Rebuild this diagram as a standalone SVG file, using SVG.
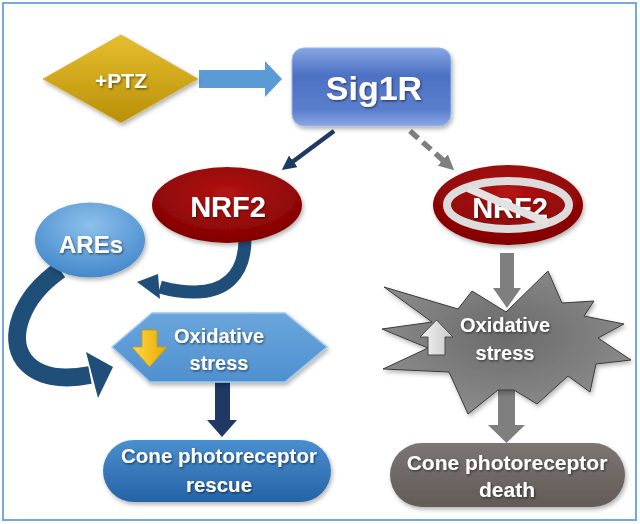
<svg xmlns="http://www.w3.org/2000/svg" width="640" height="524" viewBox="0 0 640 524">
<defs>
<style>
.t{font-family:"Liberation Sans",Arial,sans-serif;font-weight:bold;fill:#fff;text-anchor:middle;filter:url(#ts)}
</style>
<filter id="ts" x="-10%" y="-20%" width="130%" height="150%"><feDropShadow dx="1" dy="1.2" stdDeviation="0.8" flood-color="#000" flood-opacity="0.55"/></filter>
<filter id="sh" x="-10%" y="-10%" width="130%" height="140%"><feDropShadow dx="1.5" dy="2.5" stdDeviation="2" flood-color="#000" flood-opacity="0.3"/></filter>
<linearGradient id="gGold" x1="0" y1="0" x2="0" y2="1"><stop offset="0" stop-color="#e6bf2e"/><stop offset="1" stop-color="#b98f08"/></linearGradient>
<linearGradient id="gSig" x1="0" y1="0" x2="0" y2="1"><stop offset="0" stop-color="#86a6e2"/><stop offset="0.35" stop-color="#4d71c3"/><stop offset="0.8" stop-color="#5a7fcd"/><stop offset="1" stop-color="#8aa8e4"/></linearGradient>
<radialGradient id="gRed" cx="0.5" cy="0.35" r="0.7"><stop offset="0" stop-color="#b41414"/><stop offset="1" stop-color="#7e0000"/></radialGradient>
<radialGradient id="gAre" cx="0.5" cy="0.3" r="0.75"><stop offset="0" stop-color="#8cc0ec"/><stop offset="1" stop-color="#3f85c8"/></radialGradient>
<linearGradient id="gHex" x1="0" y1="0" x2="0" y2="1"><stop offset="0" stop-color="#6aa6dc"/><stop offset="1" stop-color="#4f90cf"/></linearGradient>
<linearGradient id="gYel" x1="0" y1="0" x2="1" y2="0"><stop offset="0" stop-color="#ffd94a"/><stop offset="1" stop-color="#e8a800"/></linearGradient>
<radialGradient id="gStar" cx="0.5" cy="0.45" r="0.6"><stop offset="0" stop-color="#6a6a6a"/><stop offset="1" stop-color="#8e8e8e"/></radialGradient>
<linearGradient id="gUp" x1="0" y1="0" x2="1" y2="0"><stop offset="0" stop-color="#f4f4f4"/><stop offset="1" stop-color="#c8c8c8"/></linearGradient>
<linearGradient id="gRes" x1="0" y1="0" x2="0" y2="1"><stop offset="0" stop-color="#4a8fd0"/><stop offset="1" stop-color="#2563a6"/></linearGradient>
<linearGradient id="gDea" x1="0" y1="0" x2="0" y2="1"><stop offset="0" stop-color="#7c7572"/><stop offset="1" stop-color="#625b58"/></linearGradient>
<marker id="mNavy" viewBox="0 0 10 10" refX="2" refY="5" markerWidth="3.2" markerHeight="3.2" orient="auto" markerUnits="strokeWidth"><path d="M0,0 L10,5 L0,10 Z" fill="#1f3864"/></marker>
<marker id="mGray" viewBox="0 0 10 10" refX="2" refY="5" markerWidth="2.8" markerHeight="2.8" orient="auto" markerUnits="strokeWidth"><path d="M0,0 L10,5 L0,10 Z" fill="#7f7f7f"/></marker>
</defs>
<rect x="0" y="0" width="640" height="524" fill="#fff"/>
<rect x="3" y="3" width="633" height="517" fill="#fff" stroke="#74a9e0" stroke-width="2"/>

<g id="connectors">
<polygon points="199,70 265,70 265,61 282,79 265,97 265,88 199,88" fill="#5b9bd5"/>
<line x1="334" y1="131" x2="291" y2="163" stroke="#1f3864" stroke-width="4.5" marker-end="url(#mNavy)"/>
<line x1="410" y1="131" x2="445" y2="162" stroke="#7f7f7f" stroke-width="5.5" stroke-dasharray="11,6" marker-end="url(#mGray)"/>
<path d="M245,236 C246,278 222,292 195,292 C182,292 170,290 160,287" fill="none" stroke="#1f4e79" stroke-width="13"/>
<polygon points="137,282 158,274 160,299" fill="#1f4e79"/>
<path d="M60,270 C20,298 8,338 24,360 C38,378 64,380 90,375" fill="none" stroke="#1f4e79" stroke-width="18"/>
<polygon points="113,367 86,352 98,398" fill="#1f4e79"/>
<polygon points="215,380 230,380 230,420 237,420 222,437 207,420 215,420" fill="#1f3864"/>
<polygon points="500,253 514,253 514,288 521,288 507,308 493,288 500,288" fill="#7f7f7f"/>
<polygon points="498,385 515,385 515,425 525,425 506.5,443 488,425 498,425" fill="#7f7f7f"/>
</g>

<g id="ptz" filter="url(#sh)">
<polygon points="43,79 121,35 198,79 121,123" fill="url(#gGold)" stroke="#d8b440" stroke-width="1"/>
<text class="t" x="121" y="88" font-size="21">+PTZ</text>
</g>

<g id="sig1r" filter="url(#sh)">
<rect x="292" y="48" width="159" height="78" rx="12" fill="url(#gSig)" stroke="#9db6e6" stroke-width="1"/>
<text class="t" x="374" y="100" font-size="34">Sig1R</text>
</g>

<g id="nrf2" filter="url(#sh)">
<ellipse cx="227" cy="205" rx="75" ry="38" fill="url(#gRed)"/>
<text class="t" x="228" y="217" font-size="29">NRF2</text>
</g>

<g id="ares" filter="url(#sh)">
<ellipse cx="90" cy="240" rx="55" ry="37.5" fill="url(#gAre)"/>
<text class="t" x="91" y="253" font-size="24">AREs</text>
</g>

<g id="nrf2-blocked" filter="url(#sh)">
<ellipse cx="508" cy="205" rx="75" ry="40" fill="url(#gRed)"/>
<ellipse cx="508" cy="205" rx="61" ry="24" fill="none" stroke="#dcdcdc" stroke-width="8"/>
<text class="t" x="510" y="218" font-size="29">NRF2</text>
<line x1="468" y1="188" x2="548" y2="223" stroke="#e2e2e2" stroke-width="8"/>
</g>

<g id="oxstress-low" filter="url(#sh)">
<polygon points="112,347 152,313 285,313 327,347 285,382 150,382" fill="url(#gHex)" stroke="#9cc7ee" stroke-width="1.5"/>
<polygon points="142,330 157,330 157,347 167,347 149.5,367 132,347 142,347" fill="url(#gYel)" stroke="#d09a00" stroke-width="0.8"/>
<text class="t" x="219" y="343" font-size="20">Oxidative</text>
<text class="t" x="219" y="370" font-size="20">stress</text>
</g>

<g id="oxstress-high" filter="url(#sh)">
<polygon points="548,271 562,303 594,301 584,316 624,324 598,338 631,360 596,364 590,392 568,376 537,404 514,390 498,390 468,414 449,372 383,369 428,348 382,329 432,322 384,287 458,309 472,291 506,312" fill="url(#gStar)" stroke="#3a3a3a" stroke-width="1"/>
<polygon points="428,355 445,355 445,337 453,337 436.5,320 420,337 428,337" fill="url(#gUp)" stroke="#4a4a4a" stroke-width="1"/>
<text class="t" x="505" y="332" font-size="20">Oxidative</text>
<text class="t" x="505" y="360" font-size="20">stress</text>
</g>

<g id="rescue" filter="url(#sh)">
<rect x="103" y="440" width="228" height="62" rx="31" fill="url(#gRes)"/>
<text class="t" x="219" y="463" font-size="20.5">Cone photoreceptor</text>
<text class="t" x="219" y="492" font-size="20.5">rescue</text>
</g>

<g id="death" filter="url(#sh)">
<rect x="390" y="443" width="235" height="64" rx="32" fill="url(#gDea)"/>
<text class="t" x="507" y="470" font-size="21">Cone photoreceptor</text>
<text class="t" x="507" y="497" font-size="21">death</text>
</g>
</svg>
